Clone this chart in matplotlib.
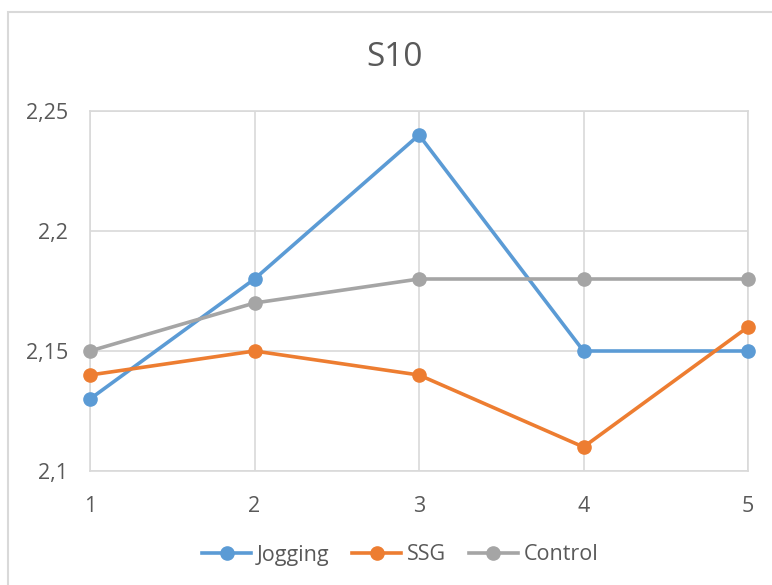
import numpy as np
import matplotlib.pyplot as plt
from matplotlib.patches import Rectangle
from matplotlib.ticker import FuncFormatter

plt.rcParams['font.family'] = ['Open Sans', 'DejaVu Sans']

x = [1, 2, 3, 4, 5]
jogging = [2.13, 2.18, 2.24, 2.15, 2.15]
ssg = [2.14, 2.15, 2.14, 2.11, 2.16]
control = [2.15, 2.17, 2.18, 2.18, 2.18]

text_col = "#595959"
grid_col = "#d9d9d9"

fig = plt.figure(figsize=(7.72, 5.85), dpi=100)
ax = fig.add_axes([90/772, 1 - 471/585, (748 - 90)/772, (471 - 111)/585])

# outer chart border (cut off at right/bottom like the source)
fig.patches.append(Rectangle((8/772, -0.1), 1.2, 1 - 12/585 + 0.1,
                             transform=fig.transFigure, fill=False,
                             edgecolor=grid_col, linewidth=1.5))

for vals, col, name in [(jogging, "#5b9bd5", "Jogging"),
                        (ssg, "#ed7d31", "SSG"),
                        (control, "#a5a5a5", "Control")]:
    ax.plot(x, vals, color=col, linewidth=2.6, marker="o", markersize=9.5,
            label=name, zorder=3, clip_on=False)

ax.set_xlim(1, 5)
ax.set_ylim(2.1, 2.25)
ax.set_xticks(x)
ax.set_yticks([2.1, 2.15, 2.2, 2.25])
ax.yaxis.set_major_formatter(FuncFormatter(lambda v, p: f"{v:.2f}".rstrip("0").replace(".", ",")))
ax.grid(True, color=grid_col, linewidth=1.2)
for s in ax.spines.values():
    s.set_color(grid_col)
    s.set_linewidth(1.2)
ax.tick_params(length=0, labelsize=15.5, colors=text_col)
ax.tick_params(axis="y", pad=16)
ax.tick_params(axis="x", pad=18)

fig.text(395/772, 1 - 57/585, "S10", ha="center", va="center", fontsize=24, color=text_col)

leg = fig.legend(loc="center", bbox_to_anchor=(400/772, 1 - 555/585), ncol=3,
                 frameon=False, fontsize=15.5, handlelength=2.3, columnspacing=1.05,
                 handletextpad=0.25, labelcolor=text_col)

fig.savefig("out.png", dpi=100)
